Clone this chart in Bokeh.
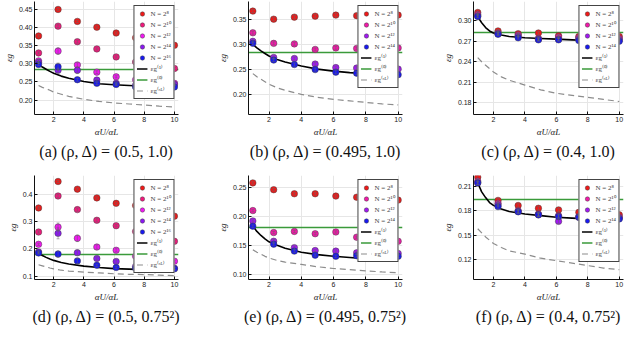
from bokeh.plotting import figure
from bokeh.layouts import gridplot
from bokeh.models import (Range1d, FixedTicker, PrintfTickFormatter, Whisker,
                          TeeHead, ColumnDataSource, Legend, LegendItem)
from bokeh.embed import file_html
from bokeh.resources import INLINE

# ---------------- data ----------------
ALPHA_RATIO = [1.0, 2.29, 3.57, 4.86, 6.14, 7.43, 8.71, 10.0]
CURVE_X = [1.0, 1.25, 1.5, 1.75, 2.0, 2.5, 3.0, 4.0, 5.0, 6.0, 7.0, 8.0, 9.0, 10.0]
X_TICKS = [2, 4, 6, 8, 10]

EXPONENTS_5 = [8, 10, 12, 14, 16]
EXPONENTS_4 = [8, 10, 12, 14]
COLORS_5 = ["#f01818", "#f0187c", "#f018f0", "#8a18f0", "#1818f0"]
COLORS_4 = ["#f01818", "#f018a8", "#a018f0", "#1818f0"]

CAPTIONS = ["(a) (ρ, Δ) = (0.5, 1.0)", "(b) (ρ, Δ) = (0.495, 1.0)", "(c) (ρ, Δ) = (0.4, 1.0)",
            "(d) (ρ, Δ) = (0.5, 0.75²)", "(e) (ρ, Δ) = (0.495, 0.75²)", "(f) (ρ, Δ) = (0.4, 0.75²)"]

# panel (a)
A_N8 = [0.377, 0.450, 0.417, 0.401, 0.385, 0.372, 0.362, 0.351]
A_N10 = [0.330, 0.404, 0.361, 0.341, 0.319, 0.305, 0.295, 0.287]
A_N12 = [0.308, 0.335, 0.297, 0.277, 0.264, 0.256, 0.250, 0.246]
A_N14 = [0.304, 0.282, 0.282, 0.255, 0.246, 0.241, 0.239, 0.243]
A_N16 = [0.298, 0.292, 0.256, 0.246, 0.243, 0.236, 0.236, 0.236]
A_E8 = [0.003, 0.003, 0.003, 0.003, 0.003, 0.003, 0.003, 0.003]
A_E10 = [0.003, 0.004, 0.004, 0.003, 0.003, 0.003, 0.003, 0.003]
A_E12 = [0.004, 0.009, 0.006, 0.004, 0.003, 0.003, 0.003, 0.003]
A_E14 = [0.003, 0.006, 0.009, 0.003, 0.003, 0.003, 0.003, 0.003]
A_E16 = [0.003, 0.010, 0.004, 0.003, 0.003, 0.003, 0.003, 0.003]
A_EPS1 = [0.298, 0.291, 0.285, 0.279, 0.274, 0.266, 0.260, 0.251, 0.245, 0.242, 0.240, 0.238, 0.237, 0.236]
A_EPSSL = [0.240, 0.235, 0.231, 0.227, 0.222, 0.216, 0.210, 0.202, 0.196, 0.192, 0.189, 0.186, 0.183, 0.181]
A_EPS0 = 0.283

# panel (b)
B_N8 = [0.366, 0.350, 0.354, 0.356, 0.358, 0.357, 0.357, 0.358]
B_N10 = [0.323, 0.302, 0.301, 0.290, 0.293, 0.292, 0.292, 0.293]
B_N12 = [0.306, 0.274, 0.272, 0.261, 0.254, 0.253, 0.252, 0.251]
B_N14 = [0.302, 0.269, 0.260, 0.250, 0.245, 0.243, 0.241, 0.240]
B_E8 = [0.003, 0.003, 0.003, 0.003, 0.003, 0.003, 0.003, 0.003]
B_E10 = [0.003, 0.003, 0.003, 0.003, 0.003, 0.003, 0.003, 0.003]
B_E12 = [0.003, 0.003, 0.003, 0.003, 0.003, 0.003, 0.003, 0.003]
B_E14 = [0.003, 0.003, 0.003, 0.003, 0.003, 0.003, 0.003, 0.003]
B_EPS1 = [0.300, 0.293, 0.287, 0.282, 0.277, 0.270, 0.265, 0.257, 0.251, 0.247, 0.244, 0.242, 0.240, 0.238]
B_EPSSL = [0.242, 0.236, 0.231, 0.226, 0.221, 0.214, 0.209, 0.201, 0.195, 0.191, 0.188, 0.185, 0.182, 0.180]
B_EPS0 = 0.2845

# panel (c)
C_N8 = [0.312, 0.285, 0.281, 0.282, 0.278, 0.277, 0.277, 0.277]
C_N10 = [0.309, 0.282, 0.279, 0.274, 0.276, 0.275, 0.274, 0.274]
C_N12 = [0.307, 0.281, 0.277, 0.273, 0.273, 0.273, 0.272, 0.272]
C_N14 = [0.306, 0.280, 0.275, 0.272, 0.272, 0.271, 0.270, 0.270]
C_E8 = [0.002, 0.002, 0.002, 0.002, 0.002, 0.002, 0.002, 0.002]
C_E10 = [0.002, 0.002, 0.002, 0.002, 0.002, 0.002, 0.002, 0.002]
C_E12 = [0.002, 0.002, 0.002, 0.002, 0.002, 0.002, 0.002, 0.002]
C_E14 = [0.002, 0.002, 0.002, 0.002, 0.002, 0.002, 0.002, 0.002]
C_EPS1 = [0.306, 0.297, 0.290, 0.285, 0.282, 0.279, 0.277, 0.275, 0.274, 0.273, 0.272, 0.271, 0.2705, 0.270]
C_EPSSL = [0.246, 0.240, 0.235, 0.230, 0.225, 0.218, 0.213, 0.206, 0.199, 0.194, 0.191, 0.188, 0.185, 0.182]
C_EPS0 = 0.283

# panel (d)
D_N8 = [0.350, 0.447, 0.419, 0.387, 0.367, 0.359, 0.345, 0.320]
D_N10 = [0.262, 0.394, 0.344, 0.305, 0.285, 0.264, 0.245, 0.228]
D_N12 = [0.217, 0.280, 0.239, 0.207, 0.195, 0.173, 0.167, 0.155]
D_N14 = [0.189, 0.257, 0.186, 0.165, 0.154, 0.136, 0.137, 0.129]
D_N16 = [0.185, 0.181, 0.156, 0.140, 0.132, 0.129, 0.124, 0.127]
D_E8 = [0.004, 0.004, 0.004, 0.004, 0.004, 0.004, 0.004, 0.004]
D_E10 = [0.004, 0.006, 0.006, 0.006, 0.004, 0.004, 0.004, 0.004]
D_E12 = [0.004, 0.015, 0.012, 0.008, 0.006, 0.004, 0.004, 0.004]
D_E14 = [0.004, 0.020, 0.010, 0.006, 0.006, 0.004, 0.004, 0.004]
D_E16 = [0.004, 0.012, 0.010, 0.004, 0.004, 0.004, 0.004, 0.004]
D_EPS1 = [0.185, 0.176, 0.169, 0.163, 0.158, 0.150, 0.145, 0.137, 0.132, 0.128, 0.126, 0.124, 0.123, 0.122]
D_EPSSL = [0.142, 0.138, 0.134, 0.130, 0.127, 0.122, 0.119, 0.115, 0.112, 0.109, 0.107, 0.106, 0.104, 0.102]
D_EPS0 = 0.181

# panel (e)
E_N8 = [0.2587, 0.247, 0.240, 0.240, 0.236, 0.234, 0.232, 0.229]
E_N10 = [0.211, 0.173, 0.175, 0.171, 0.174, 0.165, 0.162, 0.158]
E_N12 = [0.193, 0.158, 0.147, 0.142, 0.141, 0.138, 0.140, 0.137]
E_N14 = [0.184, 0.153, 0.141, 0.134, 0.132, 0.133, 0.129, 0.132]
E_E8 = [0.002, 0.002, 0.002, 0.002, 0.002, 0.002, 0.002, 0.002]
E_E10 = [0.002, 0.002, 0.002, 0.002, 0.002, 0.002, 0.002, 0.002]
E_E12 = [0.002, 0.003, 0.003, 0.002, 0.002, 0.002, 0.002, 0.002]
E_E14 = [0.002, 0.002, 0.002, 0.002, 0.002, 0.002, 0.002, 0.002]
E_EPS1 = [0.184, 0.175, 0.168, 0.162, 0.157, 0.151, 0.146, 0.139, 0.135, 0.132, 0.130, 0.128, 0.126, 0.125]
E_EPSSL = [0.1435, 0.139, 0.136, 0.132, 0.129, 0.125, 0.122, 0.118, 0.114, 0.111, 0.109, 0.107, 0.105, 0.1035]
E_EPS0 = 0.182

# panel (f)
F_N8 = [0.221, 0.1926, 0.1864, 0.183, 0.181, 0.178, 0.176, 0.175]
F_N10 = [0.216, 0.189, 0.180, 0.176, 0.174, 0.173, 0.172, 0.172]
F_N12 = [0.214, 0.187, 0.179, 0.175, 0.167, 0.172, 0.171, 0.171]
F_N14 = [0.214, 0.185, 0.1787, 0.175, 0.173, 0.172, 0.171, 0.170]
F_E8 = [0.002, 0.002, 0.002, 0.002, 0.002, 0.002, 0.002, 0.002]
F_E10 = [0.002, 0.002, 0.002, 0.002, 0.002, 0.002, 0.002, 0.002]
F_E12 = [0.002, 0.002, 0.002, 0.002, 0.003, 0.002, 0.002, 0.002]
F_E14 = [0.002, 0.002, 0.002, 0.002, 0.002, 0.002, 0.002, 0.002]
F_EPS1 = [0.214, 0.203, 0.196, 0.190, 0.1865, 0.182, 0.179, 0.176, 0.174, 0.172, 0.171, 0.170, 0.1695, 0.169]
F_EPSSL = [0.158, 0.153, 0.148, 0.144, 0.140, 0.135, 0.131, 0.127, 0.122, 0.119, 0.116, 0.113, 0.110, 0.108]
F_EPS0 = 0.194

Y_RANGES = [(0.160, 0.472), (0.161, 0.385), (0.163, 0.328),
            (0.088, 0.469), (0.092, 0.2715), (0.096, 0.223)]
Y_TICKS = [[0.20, 0.25, 0.30, 0.35, 0.40, 0.45], [0.20, 0.25, 0.30, 0.35],
           [0.18, 0.21, 0.24, 0.27, 0.30], [0.1, 0.2, 0.3, 0.4],
           [0.10, 0.15, 0.20, 0.25], [0.12, 0.15, 0.18, 0.21]]
Y_FORMATS = ["%.2f", "%.2f", "%.2f", "%.1f", "%.2f", "%.2f"]

SUP = {"0": "⁰", "1": "¹", "2": "²", "4": "⁴", "6": "⁶", "8": "⁸"}


def sup(n):
    return "".join(SUP[c] for c in str(n))


def make_panel(idx, series, errors, exps, colors, eps1, epssl, eps0,
               width, height, left, right, top, bottom):
    p = figure(width=width, height=height, output_backend="svg", toolbar_location=None,
               x_range=Range1d(0.73, 10.27), y_range=Range1d(*Y_RANGES[idx]),
               min_border_left=left, min_border_right=right,
               min_border_top=top, min_border_bottom=bottom,
               title=CAPTIONS[idx], title_location="below")
    p.outline_line_color = None
    p.background_fill_color = "white"
    p.title.align = "center"
    p.title.offset = 0
    p.title.standoff = 2
    p.title.text_font = "Liberation Serif"
    p.title.text_font_size = "16px"
    p.title.text_font_style = "normal"
    p.title.text_color = "#111111"

    p.xaxis.ticker = FixedTicker(ticks=X_TICKS)
    p.yaxis.ticker = FixedTicker(ticks=Y_TICKS[idx])
    p.yaxis.formatter = PrintfTickFormatter(format=Y_FORMATS[idx])
    p.xaxis.axis_label = "αU/αL"
    p.yaxis.axis_label = "εg"
    for ax in (p.xaxis[0], p.yaxis[0]):
        ax.axis_line_color = "#111111"
        ax.axis_line_width = 1
        ax.major_tick_in = 3
        ax.major_tick_out = 0
        ax.major_tick_line_color = "#111111"
        ax.minor_tick_line_color = None
        ax.major_label_text_font = "Liberation Sans"
        ax.major_label_text_font_size = "7px"
        ax.major_label_text_color = "#222222"
        ax.major_label_standoff = 2
        ax.axis_label_text_font = "Liberation Serif"
        ax.axis_label_text_font_style = "italic"
        ax.axis_label_text_font_size = "9px"
        ax.axis_label_text_color = "#222222"
        ax.axis_label_standoff = 2
    p.xgrid.grid_line_color = "#e6e6e6"
    p.ygrid.grid_line_color = "#e6e6e6"

    e0 = p.hspan(y=[eps0], line_color="#3a9a3a", line_width=1.6)
    sl = p.line(CURVE_X, epssl, line_color="#8c8c8c", line_width=1.2, line_dash="6 4")
    e1 = p.line(CURVE_X, eps1, line_color="black", line_width=1.6)

    items = []
    for vals, errs, ex, col in zip(series, errors, exps, colors):
        src = ColumnDataSource(dict(x=ALPHA_RATIO, y=vals,
                                    lo=[v - e for v, e in zip(vals, errs)],
                                    hi=[v + e for v, e in zip(vals, errs)]))
        r = p.scatter("x", "y", source=src, size=6.5, fill_color=col, fill_alpha=1.0,
                      line_color="#444444", line_width=0.5)
        w = Whisker(source=src, base="x", lower="lo", upper="hi", line_color="#666666",
                    line_alpha=0.7, line_width=0.7, level="glyph",
                    lower_head=TeeHead(size=3, line_color="#666666", line_alpha=0.7,
                                       line_width=0.7),
                    upper_head=TeeHead(size=3, line_color="#666666", line_alpha=0.7,
                                       line_width=0.7))
        p.add_layout(w)
        items.append(LegendItem(label="N = 2" + sup(ex), renderers=[r]))
    items.append(LegendItem(label="εg⁽¹⁾", renderers=[e1]))
    items.append(LegendItem(label="εg⁽⁰⁾", renderers=[e0]))
    items.append(LegendItem(label="εg⁽ˢᴸ⁾", renderers=[sl]))

    leg = Legend(items=items, location="top_right")
    leg.glyph_width = 11
    leg.glyph_height = 11
    leg.label_height = 11
    leg.spacing = 0
    leg.padding = 2
    leg.margin = 4
    leg.label_standoff = 3
    leg.label_text_font = "Liberation Serif"
    leg.label_text_font_size = "7px"
    leg.label_text_line_height = 1.0
    leg.border_line_color = "#444444"
    leg.border_line_width = 1
    leg.border_line_alpha = 1.0
    leg.background_fill_color = "white"
    leg.background_fill_alpha = 1.0
    p.add_layout(leg)
    return p


pa = make_panel(0, [A_N8, A_N10, A_N12, A_N14, A_N16], [A_E8, A_E10, A_E12, A_E14, A_E16],
                EXPONENTS_5, COLORS_5, A_EPS1, A_EPSSL, A_EPS0, 208, 162, 24, 30, 1, 48)
pb = make_panel(1, [B_N8, B_N10, B_N12, B_N14], [B_E8, B_E10, B_E12, B_E14],
                EXPONENTS_4, COLORS_4, B_EPS1, B_EPSSL, B_EPS0, 208, 162, 40, 14, 1, 48)
pc = make_panel(2, [C_N8, C_N10, C_N12, C_N14], [C_E8, C_E10, C_E12, C_E14],
                EXPONENTS_4, COLORS_4, C_EPS1, C_EPSSL, C_EPS0, 208, 162, 57, 1, 1, 48)
pd = make_panel(3, [D_N8, D_N10, D_N12, D_N14, D_N16], [D_E8, D_E10, D_E12, D_E14, D_E16],
                EXPONENTS_5, COLORS_5, D_EPS1, D_EPSSL, D_EPS0, 208, 163, 24, 30, 5, 45)
pe = make_panel(4, [E_N8, E_N10, E_N12, E_N14], [E_E8, E_E10, E_E12, E_E14],
                EXPONENTS_4, COLORS_4, E_EPS1, E_EPSSL, E_EPS0, 208, 163, 40, 14, 5, 45)
pf = make_panel(5, [F_N8, F_N10, F_N12, F_N14], [F_E8, F_E10, F_E12, F_E14],
                EXPONENTS_4, COLORS_4, F_EPS1, F_EPSSL, F_EPS0, 208, 163, 57, 1, 13, 45)

grid = gridplot([[pa, pb, pc], [pd, pe, pf]], toolbar_location=None)

open("out.html", "w").write(file_html(grid, INLINE))
